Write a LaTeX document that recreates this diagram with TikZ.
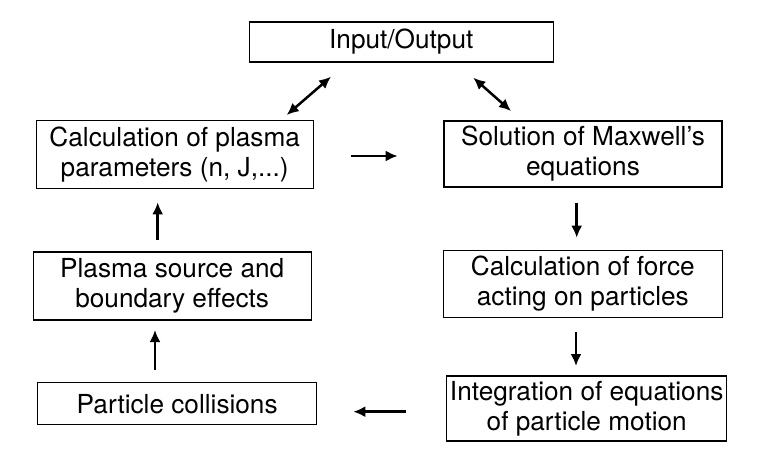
\documentclass[tikz,border=0pt]{standalone}
\usepackage{fontspec}
\setmainfont{TeX Gyre Heros}
\usetikzlibrary{arrows.meta}
\begin{document}
\begin{tikzpicture}[x=1pt,y=-1pt,
  box/.style={draw=black,line width=1.2pt,rectangle,inner sep=0pt,align=center,
    font=\fontsize{26.2}{30}\selectfont,text=black},
  arr/.style={line width=2.5pt,-{Latex[length=12pt,width=11pt]}},
  darr/.style={line width=2.5pt,{Latex[length=12pt,width=11pt]}-{Latex[length=12pt,width=11pt]}}]
\useasboundingbox[fill=white] (0,0) rectangle (776,469);
\node[box,minimum width=304pt,minimum height=40pt] (io) at (401.2,42) {Input/Output};
\node[box,minimum width=277pt,minimum height=68pt] (calc) at (174.7,154.2) {Calculation of plasma\\parameters (n, J,...)};
\node[box,minimum width=278pt,minimum height=66pt] (maxw) at (583,154) {Solution of Maxwell’s\\equations};
\node[box,minimum width=278pt,minimum height=68pt] (src) at (172.2,286) {Plasma source and\\boundary effects};
\node[box,minimum width=279pt,minimum height=67pt] (force) at (582.8,283.8) {Calculation of force\\acting on particles};
\node[box,minimum width=279pt,minimum height=42pt] (coll) at (177.2,403.8) {Particle collisions};
\node[box,minimum width=280pt,minimum height=65pt] (integ) at (586.7,408.5) {Integration of equations\\of particle motion};
% connector end points
\coordinate (a1) at (286.7,115);
\coordinate (a2) at (331,76.7);
\coordinate (b1) at (473.3,77.7);
\coordinate (b2) at (511,111);
\coordinate (c1) at (351,156);
\coordinate (c2) at (397.7,156);
\coordinate (d1) at (576.7,203);
\coordinate (d2) at (576.7,237.7);
\coordinate (e1) at (576,331.7);
\coordinate (e2) at (576,366);
\coordinate (f1) at (405.7,411.7);
\coordinate (f2) at (353.3,411.7);
\coordinate (g1) at (155,370);
\coordinate (g2) at (155,330);
\coordinate (h1) at (157.7,240);
\coordinate (h2) at (157.7,202.3);
\draw[darr] (a1) -- (a2);
\draw[darr] (b1) -- (b2);
\draw[arr] (c1) -- (c2);
\draw[arr] (d1) -- (d2);
\draw[arr] (e1) -- (e2);
\draw[arr] (f1) -- (f2);
\draw[arr] (g1) -- (g2);
\draw[arr] (h1) -- (h2);
\end{tikzpicture}
\end{document}
